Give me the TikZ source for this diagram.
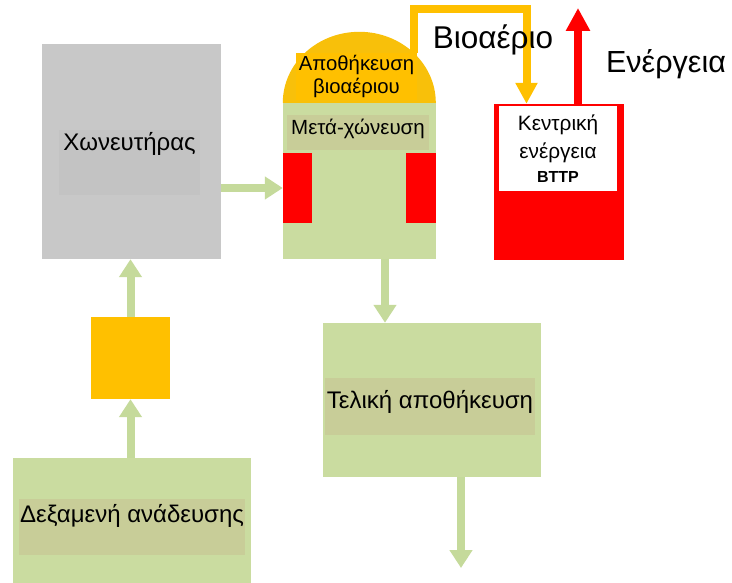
\documentclass[tikz,border=0pt]{standalone}
\usepackage{fontspec}
\setmainfont{Liberation Sans}
\usetikzlibrary{positioning, arrows.meta, calc}
\definecolor{boxgray}{RGB}{200,200,200}
\definecolor{bandgray}{RGB}{195,195,195}
\definecolor{boxgreen}{RGB}{202,220,160}
\definecolor{bandgreen}{RGB}{200,205,152}
\definecolor{flowgreen}{RGB}{197,218,155}
\definecolor{gasyellow}{RGB}{255,192,0}
\definecolor{domeyellow}{RGB}{248,192,10}
\definecolor{heatred}{RGB}{255,0,0}

\tikzset{
    block/.style={draw=none, inner sep=0pt},
    band/.style={inner sep=0pt, font=\fontsize{24}{28}\selectfont},
    flow/.style={line width=8pt, draw=flowgreen, -{Triangle[length=18pt, width=22pt]}},
    gas/.style={line width=8pt, draw=gasyellow, -{Triangle[length=21pt, width=21pt]}},
    power/.style={line width=8pt, draw=heatred, -{Triangle[length=23pt, width=23pt]}},
    biglabel/.style={font=\fontsize{31.5}{34}\selectfont}
}

\begin{document}
\begin{tikzpicture}[x=1pt, y=-1pt]
    \useasboundingbox (0,0) rectangle (732,583);

    % === CHONEFTIRAS ===
    \node[block, fill=boxgray, minimum width=179pt, minimum height=215pt] (chonef) at (131.5,151.5) {};
    \node[band, fill=bandgray, minimum width=141pt, text height=21pt, text depth=44pt] (chonefText) at (129.5,162.5) {Χωνευτήρας};

    % === PRE-TANK AND TANK ===
    \node[block, fill=gasyellow, minimum width=79pt, minimum height=82pt] (pump) at (130.5,358) {};
    \node[block, fill=boxgreen, minimum width=238pt, minimum height=125pt] (tank) at (132,520.5) {};
    \node[band, fill=bandgreen, minimum width=226pt, text height=23pt, text depth=33pt] (tankText) at (132,527) {Δεξαμενή ανάδευσης};

    % === POST DIGESTER ===
    \node[block, fill=boxgreen, minimum width=153pt, minimum height=156pt] (post) at (359.5,181) {};
    \draw[draw=none, fill=domeyellow] (post.north west) arc[start angle=180, end angle=0, x radius=76.5pt, y radius=71pt] -- cycle;
    \node[band, fill=bandgreen, minimum width=142pt, text height=20pt, text depth=15pt,
          font=\fontsize{20.5}{24}\selectfont] (postText) at (358,132.5) {Μετά-χώνευση};
    \node[block, fill=heatred, minimum width=29pt, minimum height=70pt] (heatL) at (297.5,188) {};
    \node[block, fill=heatred, minimum width=30pt, minimum height=70pt] (heatR) at (421,188) {};
    \node[block, fill=gasyellow, minimum width=121pt, minimum height=47pt, align=center,
          font=\fontsize{20.3}{23}\selectfont] (storage) at (356.5,76.5) {Αποθήκευση\\βιοαέριου};

    % === FINAL STORAGE ===
    \node[block, fill=boxgreen, minimum width=218pt, minimum height=154pt] (final) at (432,400) {};
    \node[band, fill=bandgreen, minimum width=210pt, text height=30pt, text depth=27pt] (finalText) at (430,406.5) {Τελική αποθήκευση};

    % === CHP ===
    \node[block, fill=heatred, minimum width=130pt, minimum height=156pt] (chp) at (559,182) {};
    \node[block, fill=white, minimum width=118pt, minimum height=85pt, align=center,
          font=\fontsize{20.8}{28}\selectfont] (chpText) at (558,148.5)
          {Κεντρική\\ενέργεια\\[-4pt]{\fontsize{16}{18}\selectfont\bfseries BTTP}};

    % === FLOWS ===
    \draw[flow] (tank.north -| pump) -- (pump.south);
    \draw[flow] (pump.north) -- (pump.north |- chonef.south);
    \draw[flow] (chonef.east |- heatL) -- (heatL.west);
    \draw[flow] ([xshift=25.5pt]post.south) -- ([xshift=25.5pt]post.south |- final.north);
    \coordinate (out) at (461,568);
    \draw[flow] (out |- final.south) -- (out);

    % biogas pipe
    \coordinate (gasbend) at (526.5,9);
    \draw[gas] ([xshift=-3pt]storage.north east) |- (gasbend) -- (gasbend |- chp.north);
    \node[biglabel] (gasLabel) at (493,40) {Βιοαέριο};

    % energy out
    \coordinate (powerout) at (578,8);
    \draw[power] (powerout |- chp.north) -- (powerout);
    \node[biglabel, font=\fontsize{30.5}{34}\selectfont] (powerLabel) at (666,64) {Ενέργεια};

\end{tikzpicture}
\end{document}
